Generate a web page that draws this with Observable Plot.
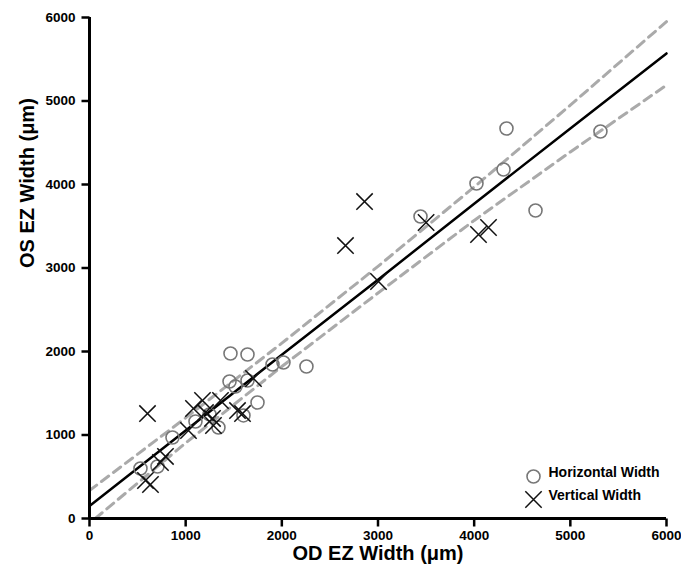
<!DOCTYPE html>
<html><head><meta charset="utf-8">
<script src="https://cdn.jsdelivr.net/npm/d3@7"></script>
<script src="https://cdn.jsdelivr.net/npm/@observablehq/plot@0.6"></script>
<style>body{margin:0;background:#fff}</style>
</head><body><div id="chart"></div>
<script>
// Horizontal width (circles): OD vs OS
const horizOD = [530, 707, 863, 1102, 1248, 1341, 1466, 1643, 1456, 1518, 1643, 1747, 1601, 1903, 2017, 2256, 3442, 4024, 4305, 4336, 4638, 5313];
const horizOS = [599, 623, 970, 1162, 1246, 1090, 1976, 1964, 1641, 1581, 1653, 1389, 1234, 1844, 1868, 1820, 3617, 4012, 4180, 4671, 3689, 4635];
// Vertical width (crosses)
const vertOD = [603, 582, 634, 738, 790, 1029, 1081, 1175, 1206, 1279, 1289, 1362, 1539, 1591, 1705, 2662, 2860, 3500, 3005, 4045, 4149];
const vertOS = [1257, 455, 407, 671, 743, 1054, 1317, 1413, 1269, 1198, 1114, 1413, 1293, 1257, 1677, 3269, 3796, 3545, 2838, 3401, 3485];
// Regression line and confidence band
const fitX = [0, 1000, 2000, 3000, 4000, 5000, 6000];
const fitY = [150, 1055, 1960, 2860, 3770, 4670, 5570];
const upperY = [335, 1205, 2100, 3020, 3970, 4950, 5950];
const lowerX = [60, 1000, 2000, 3000, 4000, 5000, 6000];
const lowerY = [0, 905, 1820, 2700, 3570, 4390, 5190];
const xTicks = [0, 1000, 2000, 3000, 4000, 5000, 6000];
const yTicks = [0, 1000, 2000, 3000, 4000, 5000, 6000];
const legendLabels = ["Horizontal Width", "Vertical Width"];

const horiz = horizOD.map((d, i) => ({x: d, y: horizOS[i]}));
const vert = vertOD.map((d, i) => ({x: d, y: vertOS[i]}));
const fit = fitX.map((d, i) => ({x: d, y: fitY[i], hi: upperY[i]}));
const low = lowerX.map((d, i) => ({x: d, y: lowerY[i]}));
const fmt = d3.format("d");

// layout: the data area is 89..666 x 17..518; the frame is widened by a gutter so ticks sit inside it
const W = 681, H = 575, gutter = 9;
const ML = 89 - gutter, MR = 15, MT = 17, MB = 57 - gutter;
const pxPerX = (W - 89 - MR) / 6000, pxPerY = (H - MT - 57) / 6000;
const tickPx = 8;

// tick glyphs drawn as paths (custom symbols)
const tickDown = {draw(ctx) { ctx.moveTo(0, 0); ctx.lineTo(0, tickPx); }};
const tickLeft = {draw(ctx) { ctx.moveTo(0, 0); ctx.lineTo(-tickPx, 0); }};

const chart = Plot.plot({
  width: W,
  height: H,
  marginLeft: ML,
  marginRight: MR,
  marginTop: MT,
  marginBottom: MB,
  style: {fontFamily: "'Liberation Sans', Arial, sans-serif", fontWeight: "bold", color: "#000", background: "#fff"},
  x: {domain: [-gutter / pxPerX, 6000], axis: null},
  y: {domain: [-gutter / pxPerY, 6000], axis: null},
  marks: [
    Plot.line(fit, {x: "x", y: "hi", stroke: "#aaaaaa", strokeWidth: 3, strokeDasharray: "9,6"}),
    Plot.line(low, {x: "x", y: "y", stroke: "#aaaaaa", strokeWidth: 3, strokeDasharray: "9,6"}),
    Plot.line(fit, {x: "x", y: "y", stroke: "#000", strokeWidth: 2.5}),
    Plot.dot(horiz, {x: "x", y: "y", r: 6.5, stroke: "#777", strokeWidth: 1.6, fill: "none"}),
    Plot.dot(vert, {x: "x", y: "y", r: 7.5, symbol: "times", stroke: "#111", strokeWidth: 1.5}),
    // ticks
    Plot.dot(xTicks, {x: d => d, y: d => 0, symbol: tickDown, r: 5, stroke: "#000", strokeWidth: 2.5, fill: "none"}),
    Plot.dot(yTicks, {x: d => 0, y: d => d, symbol: tickLeft, r: 5, stroke: "#000", strokeWidth: 2.5, fill: "none"}),
    // axis lines
    Plot.ruleY([0], {x1: 0, x2: 6000, stroke: "#000", strokeWidth: 3}),
    Plot.ruleX([0], {y1: 0, y2: 6000, stroke: "#000", strokeWidth: 3}),
    // tick labels
    Plot.text(xTicks, {x: d => d, text: d => fmt(d), frameAnchor: "bottom", dy: 12, fontSize: 13.5, fontWeight: "bold"}),
    Plot.text(yTicks, {y: d => d, text: d => fmt(d), frameAnchor: "left", dx: -5, textAnchor: "end", fontSize: 13.5, fontWeight: "bold"}),
    // axis titles
    Plot.text(["OD EZ Width (μm)"], {x: 3000, frameAnchor: "bottom", dy: 32, fontSize: 20, fontWeight: "bold"}),
    Plot.text(["OS EZ Width (μm)"], {y: 3000, frameAnchor: "left", dx: -53, rotate: -90, fontSize: 20, fontWeight: "bold"}),
    // legend
    Plot.dot([legendLabels[0]], {frameAnchor: "bottom-right", dx: -133, dy: -51, r: 6.5, stroke: "#777", strokeWidth: 1.6, fill: "none"}),
    Plot.dot([legendLabels[1]], {frameAnchor: "bottom-right", dx: -133, dy: -28, r: 7.5, symbol: "times", stroke: "#111", strokeWidth: 1.5}),
    Plot.text([legendLabels[0]], {text: d => d, frameAnchor: "bottom-right", dx: -118, dy: -51, textAnchor: "start", fontSize: 14, fontWeight: "bold"}),
    Plot.text([legendLabels[1]], {text: d => d, frameAnchor: "bottom-right", dx: -118, dy: -28, textAnchor: "start", fontSize: 14, fontWeight: "bold"})
  ]
});
document.getElementById("chart").appendChild(chart);
</script>
</body></html>
